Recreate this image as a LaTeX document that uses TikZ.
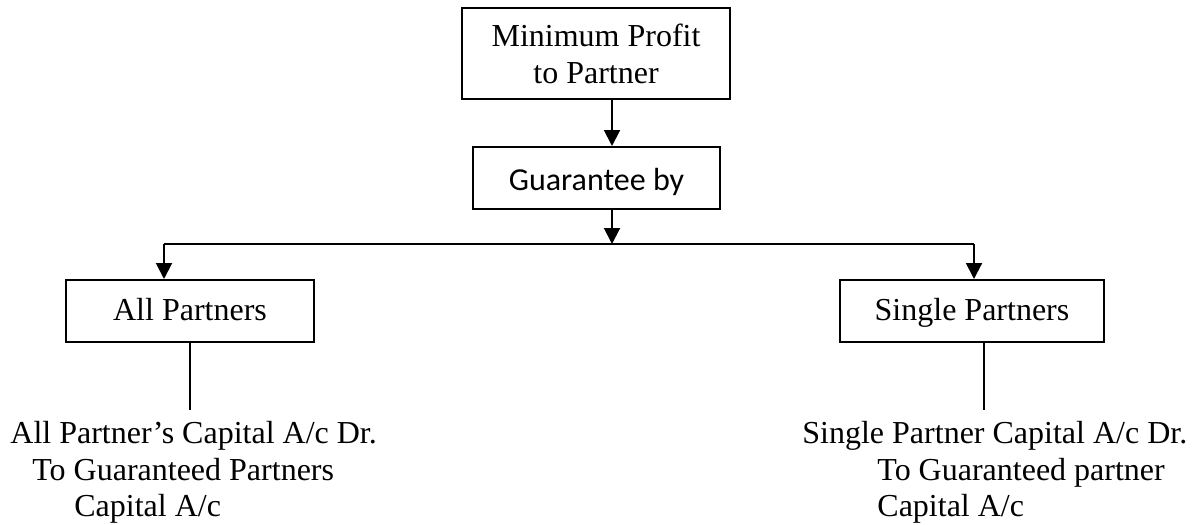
\documentclass[tikz,border=0pt]{standalone}
\usepackage{fontspec}
\setmainfont{Liberation Serif}
\newfontfamily\carlito{Carlito}
\usetikzlibrary{arrows.meta}
\tikzset{
  box/.style={draw, line width=1pt, align=center, inner sep=0pt,
    font=\fontsize{16pt}{18.5pt}\selectfont},
  onerow/.style={text height=12pt, text depth=3pt},
  conn/.style={line width=1pt, -{Triangle[length=8pt,width=8pt]}},
  plain/.style={line width=1pt},
  entry/.style={anchor=base west, inner sep=0pt, font=\fontsize{16pt}{18.5pt}\selectfont}
}

\begin{document}
\begin{tikzpicture}[x=0.5pt,y=-0.5pt]
                \useasboundingbox (0,0) rectangle (1192,524);

                %boxes of the chart, define nodes first
                \node (top) at (596,53.5) [box, minimum width=134pt, minimum height=45.5pt]{Minimum Profit\\to Partner};
                \node (guar) at (596.5,178) [box, minimum width=123.5pt, minimum height=31pt, text height=13pt, text depth=1pt, font=\carlito\fontsize{16pt}{18.5pt}\selectfont]{Guarantee by};
                \node (allp) at (190,311) [box, onerow, minimum width=124pt, minimum height=31pt]{All Partners};
                \node (sing) at (972,311) [box, onerow, minimum width=132pt, minimum height=31pt]{Single Partners};

                %points where the connectors turn or stop
                \coordinate (split) at (612,244);
                \coordinate (lturn) at (164,244);
                \coordinate (rturn) at (974,244);
                \coordinate (allend) at (190,410);
                \coordinate (singend) at (984,410);

                %arrows from the top down to the split line
                \draw[conn] (top.south -| split) -- (guar.north -| split);
                \draw[conn] (guar.south -| split) -- (split);
                \draw[plain] (lturn) -- (rturn);
                \draw[conn] (lturn) -- (lturn |- allp.north);
                \draw[conn] (rturn) -- (rturn |- sing.north);

                %lines down to the entries
                \draw[plain] (allp.south) -- (allend);
                \draw[plain] (sing.south -| singend) -- (singend);

                %journal entries under each box
                \node (alla) at (10,443) [entry]{All Partner’s Capital A/c Dr.};
                \node (allb) at (32,480) [entry]{To Guaranteed Partners};
                \node (allc) at (74,516) [entry]{Capital A/c};
                \node (singa) at (802,443) [entry]{Single Partner Capital A/c Dr.};
                \node (singb) at (877,480) [entry]{To Guaranteed partner};
                \node (singc) at (877,516) [entry]{Capital A/c};
            \end{tikzpicture}
\end{document}
